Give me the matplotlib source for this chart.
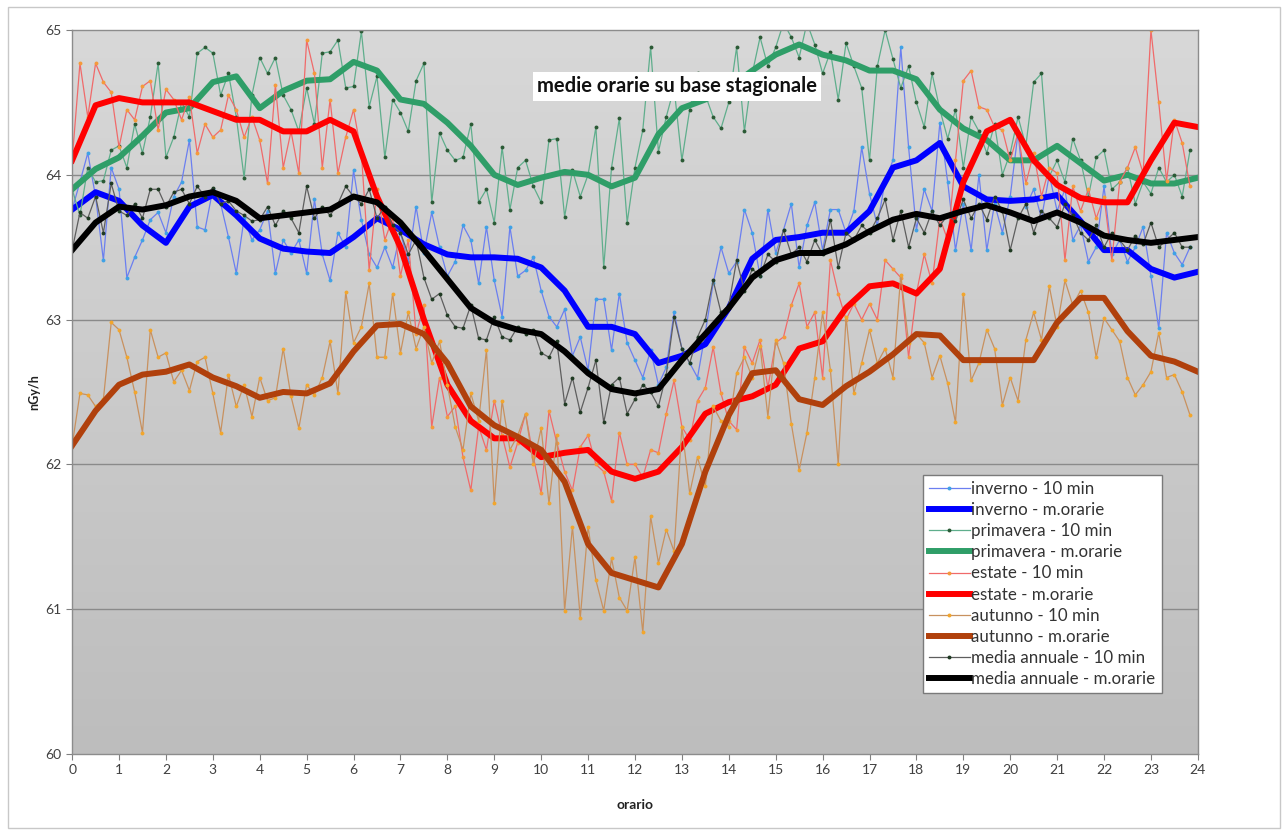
import matplotlib
matplotlib.use("Agg")
import matplotlib.pyplot as plt
import matplotlib.patches as mpatches
import numpy as np

plt.rcParams['font.family'] = ['Lato', 'DejaVu Sans']

# valori ogni 10 minuti (6 per ora, dalle 0:00 alle 23:50)
inverno_10 = [
    63.76, 63.95, 64.15, 63.85, 63.41, 64.05,
    63.90, 63.29, 63.43, 63.55, 63.69, 63.74,
    63.60, 63.85, 63.95, 64.24, 63.64, 63.62,
    63.90, 63.80, 63.57, 63.32, 63.70, 63.55,
    63.62, 63.75, 63.32, 63.55, 63.46, 63.55,
    63.32, 63.83, 63.45, 63.27, 63.60, 63.50,
    64.03, 63.69, 63.45, 63.36, 63.50, 63.36,
    63.60, 63.40, 63.78, 63.46, 63.74, 63.50,
    63.30, 63.40, 63.65, 63.55, 63.25, 63.64,
    63.27, 63.02, 63.64, 63.30, 63.34, 63.43,
    63.20, 63.02, 62.95, 63.07, 62.75, 62.88,
    62.65, 63.14, 63.14, 62.79, 63.18, 62.84,
    62.72, 62.60, 62.79, 62.55, 62.67, 63.05,
    62.80, 62.70, 62.60, 62.91, 63.25, 63.50,
    63.32, 63.40, 63.76, 63.60, 63.30, 63.76,
    63.46, 63.62, 63.80, 63.36, 63.65, 63.81,
    63.48, 63.76, 63.76, 63.60, 63.75, 64.19,
    63.87, 63.65, 63.96, 64.10, 64.88, 64.19,
    63.62, 63.90, 63.75, 64.36, 63.95, 63.48,
    63.80, 63.48, 64.00, 63.48, 63.80, 63.60,
    63.85, 64.29, 63.78, 63.90, 63.70, 64.00,
    63.75, 63.90, 63.55, 63.65, 63.40, 63.50,
    63.92, 63.45, 63.55, 63.40, 63.50, 63.64,
    63.30, 62.94, 63.60, 63.46, 63.38, 63.50,
]
primavera_10 = [
    63.90, 63.72, 64.05, 63.95, 63.96, 64.17,
    64.20, 64.05, 64.35, 64.15, 64.40, 64.77,
    64.12, 64.26, 64.50, 64.40, 64.84, 64.88,
    64.84, 64.55, 64.70, 64.40, 63.98, 64.55,
    64.81, 64.70, 64.81, 64.55, 64.45, 64.30,
    64.60, 64.35, 64.84, 64.85, 64.93, 64.60,
    64.61, 64.99, 64.47, 64.68, 64.12, 64.52,
    64.43, 64.30, 64.65, 64.77, 63.81, 64.29,
    64.17, 64.10, 64.12, 64.35, 63.81, 63.90,
    63.67, 64.19, 63.76, 64.05, 64.10, 63.92,
    63.81, 64.24, 64.25, 63.71, 64.03, 63.85,
    64.00, 64.33, 63.36, 64.05, 64.39, 63.67,
    64.05, 64.31, 64.88, 64.16, 64.40, 64.60,
    64.10, 64.45, 64.70, 64.55, 64.40, 64.32,
    64.50, 64.88, 64.30, 64.70, 64.95, 64.75,
    64.88, 65.05, 64.95, 64.81, 65.05, 64.90,
    64.70, 64.85, 64.52, 64.91, 64.75, 64.60,
    64.10, 64.75, 65.00, 64.80, 64.60, 64.75,
    64.50, 64.33, 64.70, 64.45, 64.25, 64.45,
    64.05, 64.40, 64.30, 64.15, 64.35, 64.00,
    64.15, 64.40, 64.20, 64.64, 64.70, 63.99,
    64.10, 63.95, 64.25, 64.10, 63.85, 64.12,
    64.17, 63.90, 63.95, 64.05, 63.80, 63.95,
    63.87, 64.05, 63.95, 64.00, 63.85, 64.17,
]
estate_10 = [
    64.10, 64.77, 64.40, 64.77, 64.64, 64.57,
    64.19, 64.45, 64.38, 64.61, 64.65, 64.31,
    64.59, 64.52, 64.38, 64.54, 64.15, 64.35,
    64.26, 64.31, 64.55, 64.45, 64.26, 64.40,
    64.24, 63.94, 64.62, 64.05, 64.30, 64.01,
    64.93, 64.70, 64.05, 64.52, 64.01, 64.26,
    64.45, 64.15, 63.34, 63.90, 63.55, 63.70,
    63.30, 63.55, 62.90, 63.10, 62.26, 62.60,
    62.33, 62.40, 62.05, 61.82, 62.26, 62.10,
    62.44, 62.20, 61.98, 62.15, 62.35, 62.05,
    61.80, 62.37, 62.15, 61.95, 61.82, 62.12,
    62.20, 62.00, 61.95, 61.75, 62.22, 62.00,
    62.00, 61.91, 62.10, 62.08, 62.35, 62.58,
    62.26, 62.17, 62.44, 62.53, 62.81, 62.49,
    62.30, 62.24, 62.81, 62.70, 62.86, 62.53,
    62.84, 62.88, 63.10, 63.25, 62.95, 63.05,
    62.60, 63.41, 63.18, 63.00, 63.11, 63.00,
    63.11, 63.00, 63.41, 63.35, 63.29, 62.74,
    63.18, 63.45, 63.25, 63.70, 63.55, 64.10,
    64.65, 64.72, 64.47, 64.45, 64.33, 64.31,
    64.10, 64.29, 63.94, 64.15, 63.85, 64.05,
    64.01, 63.41, 63.92, 63.75, 63.90, 63.70,
    63.85, 63.41, 63.95, 64.05, 64.19, 64.01,
    65.00, 64.50, 63.96, 64.38, 64.22, 63.92,
]
autunno_10 = [
    62.13, 62.49, 62.48, 62.40, 62.45, 62.98,
    62.93, 62.74, 62.50, 62.22, 62.93, 62.74,
    62.77, 62.57, 62.65, 62.51, 62.71, 62.74,
    62.49, 62.22, 62.62, 62.40, 62.55, 62.33,
    62.60, 62.44, 62.46, 62.80, 62.47, 62.25,
    62.55, 62.48, 62.60, 62.85, 62.49, 63.19,
    62.84, 62.95, 63.25, 62.74, 62.74, 63.18,
    62.77, 63.05, 62.80, 62.95, 62.70, 62.85,
    62.55, 62.26, 62.10, 62.49, 62.30, 62.79,
    61.73, 62.44, 62.10, 62.20, 62.35, 62.00,
    62.25, 61.73, 62.20, 60.99, 61.57, 60.94,
    61.57, 61.20, 60.99, 61.35, 61.08, 60.99,
    61.36, 60.84, 61.64, 61.32, 61.55, 61.40,
    62.26, 61.80, 62.05, 61.85, 62.40, 62.30,
    62.26, 62.63, 62.74, 62.60, 62.82, 62.33,
    62.86, 62.70, 62.28, 61.96, 62.22, 62.60,
    63.05, 62.65, 62.00, 63.02, 62.49, 62.70,
    62.93, 62.70, 62.80, 62.60, 63.31, 62.84,
    62.90, 62.84, 62.60, 62.75, 62.56, 62.29,
    63.18, 62.58, 62.70, 62.93, 62.80, 62.41,
    62.60, 62.44, 62.86, 63.05, 62.86, 63.23,
    62.95, 63.27, 63.10, 63.20, 63.05, 62.74,
    63.01, 62.93, 62.85, 62.60, 62.48, 62.55,
    62.64, 62.91, 62.60, 62.62, 62.50, 62.34,
]
media_10 = [
    63.48, 63.74, 63.70, 63.85, 63.60, 63.94,
    63.75, 63.72, 63.80, 63.70, 63.90, 63.90,
    63.78, 63.88, 63.90, 63.80, 63.92, 63.85,
    63.91, 63.80, 63.82, 63.75, 63.72, 63.68,
    63.69, 63.78, 63.65, 63.75, 63.70, 63.60,
    63.92, 63.70, 63.78, 63.72, 63.80, 63.92,
    63.85, 63.80, 63.90, 63.70, 63.78, 63.65,
    63.60, 63.45, 63.55, 63.29, 63.14, 63.18,
    63.03, 62.95, 62.94, 63.10, 62.87, 62.86,
    63.02, 62.88, 62.86, 62.95, 62.90, 62.93,
    62.77, 62.74, 62.85, 62.42, 62.60, 62.36,
    62.53, 62.72, 62.29, 62.55, 62.60, 62.35,
    62.45, 62.55, 62.50, 62.40, 62.62, 63.02,
    62.80, 62.70, 62.88, 63.00, 63.27, 63.05,
    63.10, 63.41, 63.20, 63.35, 63.30, 63.45,
    63.40, 63.62, 63.45, 63.50, 63.40, 63.55,
    63.45, 63.69, 63.36, 63.60, 63.55, 63.65,
    63.60, 63.70, 63.83, 63.55, 63.75, 63.50,
    63.70, 63.60, 63.75, 63.65, 63.72, 63.68,
    63.83, 63.70, 63.80, 63.69, 63.85, 63.75,
    63.48, 63.70, 63.80, 63.60, 63.75, 63.70,
    63.64, 63.80, 63.72, 63.60, 63.55, 63.65,
    63.50, 63.60, 63.55, 63.48, 63.58, 63.52,
    63.67, 63.50, 63.55, 63.60, 63.50, 63.50,
]

# medie orarie mobili, lette ogni 30 minuti (0:00 ... 24:00)
inverno_m = [63.76, 63.88, 63.82, 63.65, 63.53, 63.78, 63.86, 63.72, 63.56, 63.49,
             63.47, 63.46, 63.57, 63.70, 63.62, 63.52, 63.45, 63.43, 63.43, 63.42,
             63.36, 63.20, 62.95, 62.95, 62.90, 62.70, 62.75, 62.83, 63.08, 63.42,
             63.55, 63.57, 63.60, 63.60, 63.75, 64.05, 64.10, 64.22, 63.92, 63.83,
             63.82, 63.83, 63.86, 63.68, 63.48, 63.48, 63.35, 63.29, 63.33]
primavera_m = [63.90, 64.04, 64.12, 64.27, 64.43, 64.46, 64.64, 64.68, 64.46, 64.58,
               64.65, 64.66, 64.78, 64.72, 64.52, 64.49, 64.36, 64.20, 64.00, 63.93,
               63.98, 64.02, 64.00, 63.92, 63.98, 64.28, 64.46, 64.52, 64.60, 64.72,
               64.83, 64.90, 64.83, 64.79, 64.72, 64.72, 64.66, 64.45, 64.32, 64.24,
               64.10, 64.10, 64.20, 64.08, 63.96, 64.00, 63.94, 63.94, 63.98]
estate_m = [64.10, 64.48, 64.53, 64.50, 64.50, 64.50, 64.44, 64.38, 64.38, 64.30,
            64.30, 64.38, 64.30, 63.85, 63.50, 63.00, 62.55, 62.30, 62.18, 62.18,
            62.05, 62.08, 62.10, 61.95, 61.90, 61.95, 62.12, 62.35, 62.43, 62.47,
            62.55, 62.80, 62.85, 63.08, 63.23, 63.25, 63.18, 63.35, 63.95, 64.30,
            64.38, 64.10, 63.93, 63.84, 63.81, 63.81, 64.10, 64.36, 64.33]
autunno_m = [62.13, 62.37, 62.55, 62.62, 62.64, 62.69, 62.60, 62.54, 62.46, 62.50,
             62.49, 62.56, 62.78, 62.96, 62.97, 62.90, 62.70, 62.40, 62.27, 62.19,
             62.10, 61.88, 61.45, 61.25, 61.20, 61.15, 61.45, 61.95, 62.34, 62.63,
             62.65, 62.45, 62.41, 62.54, 62.64, 62.76, 62.90, 62.89, 62.72, 62.72,
             62.72, 62.72, 62.98, 63.15, 63.15, 62.92, 62.75, 62.71, 62.64]
media_m = [63.48, 63.67, 63.78, 63.76, 63.79, 63.85, 63.88, 63.82, 63.70, 63.72,
           63.74, 63.76, 63.85, 63.81, 63.67, 63.48, 63.28, 63.08, 62.98, 62.93,
           62.90, 62.78, 62.63, 62.52, 62.49, 62.52, 62.72, 62.90, 63.08, 63.29,
           63.41, 63.46, 63.46, 63.52, 63.61, 63.69, 63.73, 63.70, 63.75, 63.79,
           63.74, 63.68, 63.74, 63.67, 63.58, 63.55, 63.53, 63.55, 63.57]

t10 = np.arange(len(inverno_10)) / 6.0
t30 = np.arange(len(inverno_m)) / 2.0

fig = plt.figure(figsize=(12.88, 8.34), dpi=100)
fig.patches.append(mpatches.Rectangle((0.006, 0.007), 0.988, 0.985, transform=fig.transFigure,
                                      fill=False, edgecolor='#c8c8c8', linewidth=1))
ax = fig.add_axes([0.056, 0.096, 0.874, 0.868])

# sfondo grigio sfumato stile Excel
grad = np.linspace(0, 1, 256).reshape(-1, 1)
bg_cmap = matplotlib.colors.LinearSegmentedColormap.from_list('bg', ['#d8d8d8', '#bdbdbd'])
ax.imshow(grad, extent=[0, 24, 60, 65], aspect='auto', cmap=bg_cmap, origin='upper', zorder=0)

for yv in [61, 62, 63, 64]:
    ax.axhline(yv, color='#8a8a8a', linewidth=1, zorder=1)

thin = dict(linewidth=0.9, marker='o', markersize=2.8, markeredgewidth=0)
thick = 4.3
ax.plot(t10, inverno_10, color='#6b7ff0', markerfacecolor='#3fa2e6', label='inverno - 10 min', **thin)
ax.plot(t30, inverno_m, color='#0000ff', linewidth=thick, label='inverno - m.orarie')
ax.plot(t10, primavera_10, color='#5fae8c', markerfacecolor='#2b5a35', label='primavera - 10 min', **thin)
ax.plot(t30, primavera_m, color='#2f9e68', linewidth=thick, label='primavera - m.orarie')
ax.plot(t10, estate_10, color='#f06a6a', markerfacecolor='#f59a3a', label='estate - 10 min', **thin)
ax.plot(t30, estate_m, color='#ff0000', linewidth=thick, label='estate - m.orarie')
ax.plot(t10, autunno_10, color='#c8915f', markerfacecolor='#f2a62c', label='autunno - 10 min', **thin)
ax.plot(t30, autunno_m, color='#b0400c', linewidth=thick, label='autunno - m.orarie')
ax.plot(t10, media_10, color='#5e5e5e', markerfacecolor='#1f3a22', label='media annuale - 10 min', **thin)
ax.plot(t30, media_m, color='#000000', linewidth=thick, label='media annuale - m.orarie')

ax.set_xlim(0, 24)
ax.set_ylim(60, 65)
ax.set_xticks(range(0, 25))
ax.set_yticks(range(60, 66))
ax.tick_params(axis='both', direction='out', length=4, color='#808080', labelsize=10,
               labelcolor='#404040')
for s in ax.spines.values():
    s.set_color('#8c8c8c')
    s.set_linewidth(1)

ax.set_xlabel('orario', fontsize=10, fontweight='bold', color='#222222', labelpad=16)
ax.set_ylabel('nGy/h', fontsize=9, fontweight='bold', color='#222222', labelpad=4)

ax.text(12.9, 64.61, 'medie orarie su base stagionale', ha='center', va='center', fontsize=14.5,
        fontweight='bold', color='#111111', zorder=20,
        bbox=dict(boxstyle='square,pad=0.2', facecolor='white', edgecolor='none'))

leg = ax.legend(loc='upper left', bbox_to_anchor=(0.756, 0.385), fontsize=12.2, frameon=True,
                fancybox=False, edgecolor='#7a7a7a', framealpha=1, handlelength=2.4,
                handletextpad=0.1, labelspacing=0.3, borderpad=0.35, borderaxespad=0)
leg.get_frame().set_linewidth(1)
for txt in leg.get_texts():
    txt.set_color('#333333')
leg.set_zorder(30)

fig.savefig('out.png', dpi=100)
